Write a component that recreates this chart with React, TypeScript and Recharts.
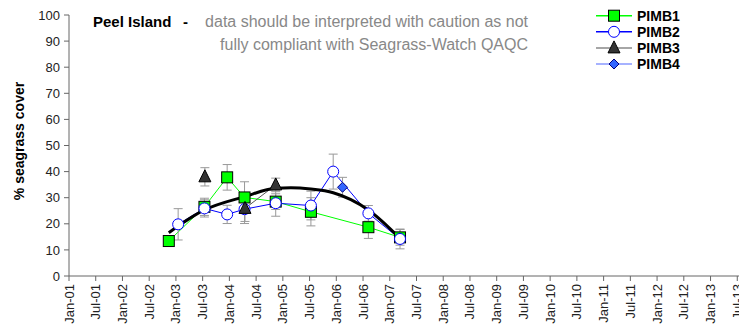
import React from 'react';
import { ComposedChart, Line, XAxis, YAxis, ErrorBar } from 'recharts';

// x values are months since Jan-01
const tickLabels = [
  'Jan-01', 'Jul-01', 'Jan-02', 'Jul-02', 'Jan-03', 'Jul-03', 'Jan-04', 'Jul-04',
  'Jan-05', 'Jul-05', 'Jan-06', 'Jul-06', 'Jan-07', 'Jul-07', 'Jan-08', 'Jul-08',
  'Jan-09', 'Jul-09', 'Jan-10', 'Jul-10', 'Jan-11', 'Jul-11', 'Jan-12', 'Jul-12',
  'Jan-13', 'Jul-13', 'Jan-14',
];
const xTicks = tickLabels.map((_, i) => i * 6);
const yTicks = [0, 10, 20, 30, 40, 50, 60, 70, 80, 90, 100];

const pimb1Months = [22.4, 30.4, 35.5, 39.4, 46.4, 54.3, 67.2, 74.3];
const pimb1Cover = [13.4, 26.5, 37.8, 30.1, 28.5, 24.6, 18.7, 14.8];
const pimb1Err = [2, 3.3, 4.9, 6, 3, 5.4, 4.3, 3];

const pimb2Months = [24.5, 30.4, 35.5, 39.4, 46.4, 54.3, 59.3, 67.2, 74.3];
const pimb2Cover = [19.8, 25.9, 23.6, 25.6, 27.9, 27.0, 40.0, 24.0, 14.2];
const pimb2Err = [6, 3.3, 3.5, 5.5, 5, 5.5, 6.7, 3, 3.8];

const pimb3Months = [30.5, 35.5, 39.5, 46.4];
const pimb3Cover = [38, null, 25.9, 34.9];
const pimb3Err = [3.5, 0, 5, 2.6];

const pimb4Months = [61.4];
const pimb4Cover = [34.0];
const pimb4Err = [3.8];

// polynomial trend line
const trendMonths = [22.4, 30.4, 39.4, 46.4, 49.8, 54.3, 59.3, 67.2, 74.3];
const trendCover = [16.6, 25.3, 30.4, 33.6, 33.8, 33.3, 31.9, 25.3, 14.4];

const build = (months: number[], cover: (number | null)[], err?: number[]) =>
  months.map((m, i) => ({ m, v: cover[i], e: err ? err[i] : 0 }));

const pimb1 = build(pimb1Months, pimb1Cover, pimb1Err);
const pimb2 = build(pimb2Months, pimb2Cover, pimb2Err);
const pimb3 = build(pimb3Months, pimb3Cover, pimb3Err);
const pimb4 = build(pimb4Months, pimb4Cover, pimb4Err);
const trend = build(trendMonths, trendCover);

const FONT = '"Liberation Sans", Arial, sans-serif';

const SquareMark = ({ cx, cy }: any) => (
  <rect x={cx - 5.5} y={cy - 5.5} width={11} height={11} fill="#00ff00" stroke="#000" strokeWidth={1} />
);
const CircleMark = ({ cx, cy }: any) => (
  <circle cx={cx} cy={cy} r={5.5} fill="#fff" stroke="#0000ff" strokeWidth={1} />
);
const TriangleMark = ({ cx, cy }: any) => (
  <path d={`M${cx},${cy - 7} L${cx + 6},${cy + 5} L${cx - 6},${cy + 5} Z`} fill="#333" stroke="#000" strokeWidth={1} />
);
const DiamondMark = ({ cx, cy }: any) => (
  <path d={`M${cx},${cy - 5} L${cx + 5},${cy} L${cx},${cy + 5} L${cx - 5},${cy} Z`} fill="#3366ff" stroke="#000080" strokeWidth={1} />
);

const dot = (Mark: any) => (props: any) => {
  const { cx, cy, payload, index } = props;
  if (cx == null || cy == null || payload?.v == null) return <g key={index} />;
  return <Mark key={index} cx={cx} cy={cy} />;
};

const XTick = ({ x, y, payload }: any) => {
  const label = tickLabels[Math.round(payload.value / 6)];
  const tx = x + 4.5;
  return (
    <text x={tx} y={y} transform={`rotate(-90, ${tx}, ${y})`} textAnchor="end" fontSize={13} fill="#222" fontFamily={FONT}>
      {label}
    </text>
  );
};

const legendItems = [
  { name: 'PIMB1', color: '#00ff00', Mark: SquareMark },
  { name: 'PIMB2', color: '#0000ff', Mark: CircleMark },
  { name: 'PIMB3', color: '#888', Mark: TriangleMark },
  { name: 'PIMB4', color: '#8899ff', Mark: DiamondMark },
];
const legendRows = [15.7, 31.8, 47.9, 64];

export default function App() {
  return (
    <div style={{ position: 'absolute', left: 0, top: 0, width: 739, height: 325, overflow: 'hidden', background: '#fff' }}>
      <ComposedChart width={764} height={325} margin={{ top: 15, right: 0, bottom: 0, left: 0 }}>
        <XAxis
          dataKey="m"
          type="number"
          domain={[0, 156]}
          ticks={xTicks}
          interval={0}
          allowDataOverflow
          height={49}
          stroke="#666"
          tickSize={5}
          tickMargin={3}
          tick={<XTick />}
        />
        <YAxis
          type="number"
          domain={[0, 100]}
          ticks={yTicks}
          interval={0}
          width={69}
          stroke="#666"
          tickSize={5}
          tickMargin={4}
          tick={{ fontSize: 13, fill: '#222', fontFamily: FONT }}
        />
        <Line data={pimb1} dataKey="v" stroke="#00ff00" strokeWidth={1} dot={dot(SquareMark)} isAnimationActive={false} type="linear">
          <ErrorBar dataKey="e" direction="y" width={4.5} stroke="#999" strokeWidth={1} />
        </Line>
        <Line data={pimb2} dataKey="v" stroke="#0000ff" strokeWidth={1} dot={dot(CircleMark)} isAnimationActive={false} type="linear">
          <ErrorBar dataKey="e" direction="y" width={4.5} stroke="#999" strokeWidth={1} />
        </Line>
        <Line data={pimb3} dataKey="v" stroke="#555" strokeWidth={1} dot={dot(TriangleMark)} isAnimationActive={false} type="linear">
          <ErrorBar dataKey="e" direction="y" width={4.5} stroke="#999" strokeWidth={1} />
        </Line>
        <Line data={pimb4} dataKey="v" stroke="#8899ff" strokeWidth={1} dot={dot(DiamondMark)} isAnimationActive={false} type="linear">
          <ErrorBar dataKey="e" direction="y" width={4.5} stroke="#999" strokeWidth={1} />
        </Line>
        <Line data={trend} dataKey="v" stroke="#000" strokeWidth={3} dot={false} isAnimationActive={false} type="monotone" />
      </ComposedChart>
      <svg width={739} height={325} style={{ position: 'absolute', left: 0, top: 0, pointerEvents: 'none' }} fontFamily={FONT}>
        <text x={24} y={141} transform="rotate(-90, 24, 141)" textAnchor="middle" fontSize={14} fontWeight="bold" fill="#000">
          % seagrass cover
        </text>
        <text x={93} y={27} fontSize={15} fontWeight="bold" fill="#000">Peel Island</text>
        <text x={183} y={27} fontSize={15} fontWeight="bold" fill="#000">-</text>
        <text x={528} y={27} fontSize={16} fill="#888" textAnchor="end">data should be interpreted with caution as not</text>
        <text x={528} y={50} fontSize={16} fill="#888" textAnchor="end">fully compliant with Seagrass-Watch QAQC</text>
        {legendItems.map((it, i) => {
          const y = legendRows[i];
          const Mark = it.Mark;
          return (
            <g key={it.name}>
              <line x1={596} x2={632} y1={y} y2={y} stroke={it.color} strokeWidth={1.5} />
              <Mark cx={614} cy={y} />
              <text x={637} y={y + 5} fontSize={14} fontWeight="bold" fill="#000">{it.name}</text>
            </g>
          );
        })}
      </svg>
    </div>
  );
}
